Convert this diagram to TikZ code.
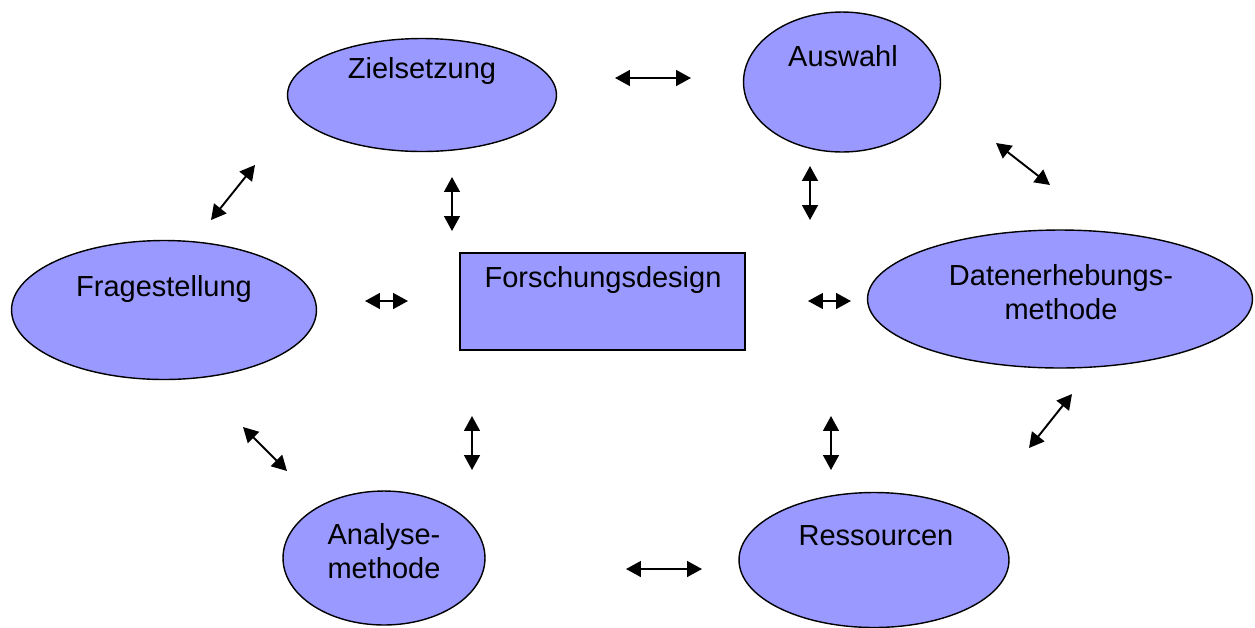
\documentclass[tikz,border=0pt]{standalone}
\usepackage{fontspec}
\setmainfont{Liberation Sans}
\usetikzlibrary{shapes.geometric,arrows.meta,positioning}
\definecolor{blobfill}{HTML}{9999FF}
\tikzset{
  blob/.style={ellipse,draw,fill=blobfill,line width=0.8pt,inner sep=0pt},
  designbox/.style={rectangle,draw,fill=blobfill,line width=1pt,inner sep=0pt},
  caption/.style={anchor=base,align=center,inner sep=0pt,
    font=\fontsize{16.5}{18.8}\selectfont},
  dbl/.style={{Triangle[length=8.5pt,width=9pt]}-{Triangle[length=8.5pt,width=9pt]},
    line width=1.1pt}
}
\begin{document}
\begin{tikzpicture}[x=0.02cm,y=-0.02cm]
  \useasboundingbox (0,0) rectangle (1255,627);
  % shapes
  \node[blob,minimum width=5.38cm,minimum height=2.26cm](ziel)at(422,95){};
  \node[blob,minimum width=3.94cm,minimum height=2.8cm](ausw)at(842,82){};
  \node[blob,minimum width=6.1cm,minimum height=2.78cm](frage)at(164,310){};
  \node[designbox,minimum width=5.7cm,minimum height=1.94cm](design)at(602.5,301.5){};
  \node[blob,minimum width=7.7cm,minimum height=2.76cm](daten)at(1060,299){};
  \node[blob,minimum width=4.04cm,minimum height=2.68cm](analyse)at(384,558){};
  \node[blob,minimum width=5.4cm,minimum height=2.7cm](ress)at(874,560){};
  % texts (two-line ones sit on their last baseline)
  \node[caption](ziel-t)at(422,78){Zielsetzung};
  \node[caption](ausw-t)at(843,66){Auswahl};
  \node[caption](frage-t)at(164,296){Fragestellung};
  \node[caption](design-t)at(603,287){Forschungsdesign};
  \node[caption](daten-t)at(1061,319){Datenerhebungs-\\methode};
  \node[caption](analyse-t)at(384,578){Analyse-\\methode};
  \node[caption](ress-t)at(876,545){Ressourcen};
  % arrow ends
  \coordinate(za1)at(615,78);   \coordinate(za2)at(691,78);
  \coordinate(zf1)at(255,165);  \coordinate(zf2)at(211,220);
  \coordinate(zd1)at(452,177);  \coordinate(zd2)at(452,231);
  \coordinate(ad1)at(810,166);  \coordinate(ad2)at(810,220);
  \coordinate(ak1)at(996,143);  \coordinate(ak2)at(1050,185);
  \coordinate(fd1)at(365,301);  \coordinate(fd2)at(408,301);
  \coordinate(dk1)at(808,301);  \coordinate(dk2)at(851,301);
  \coordinate(fn1)at(243,427);  \coordinate(fn2)at(287,471);
  \coordinate(dn1)at(472,416);  \coordinate(dn2)at(472,470);
  \coordinate(dr1)at(831,416);  \coordinate(dr2)at(831,470);
  \coordinate(kr1)at(1072,394); \coordinate(kr2)at(1029,448);
  \coordinate(nr1)at(626,569);  \coordinate(nr2)at(702,569);
  % arrows
  \draw[dbl](za1)--(za2);
  \draw[dbl](zf1)--(zf2);
  \draw[dbl](zd1)--(zd2);
  \draw[dbl](ad1)--(ad2);
  \draw[dbl](ak1)--(ak2);
  \draw[dbl](fd1)--(fd2);
  \draw[dbl](dk1)--(dk2);
  \draw[dbl](fn1)--(fn2);
  \draw[dbl](dn1)--(dn2);
  \draw[dbl](dr1)--(dr2);
  \draw[dbl](kr1)--(kr2);
  \draw[dbl](nr1)--(nr2);
\end{tikzpicture}
\end{document}
